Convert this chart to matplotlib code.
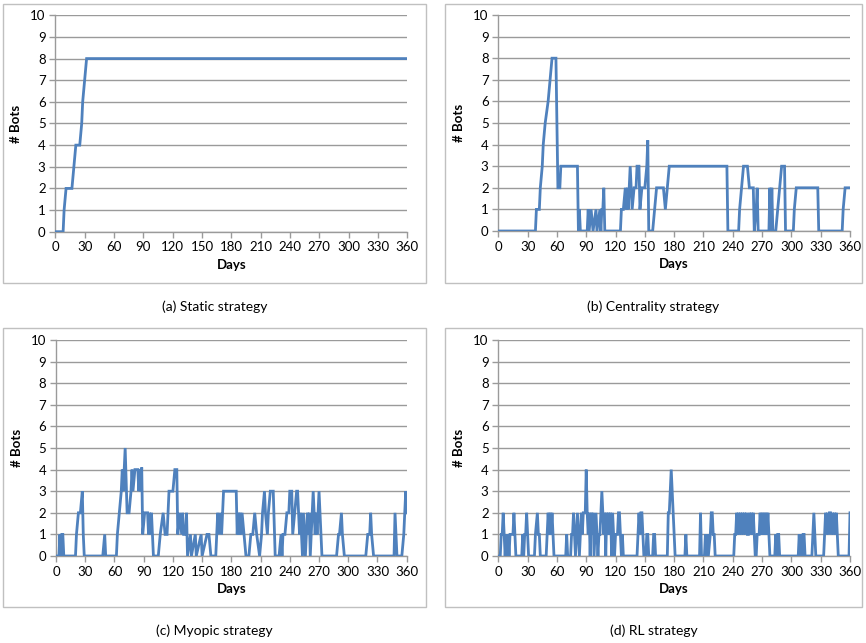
import matplotlib
matplotlib.use('Agg')
import matplotlib.pyplot as plt
from matplotlib.patches import Rectangle

plt.rcParams['font.family'] = ['Lato', 'DejaVu Sans']

# (day, #bots) breakpoints
static_days = [0, 8, 9, 11, 17, 19, 21, 25, 27, 28, 30, 32, 360]
static_bots = [0, 0, 1, 2, 2, 3, 4, 4, 5, 6, 7, 8, 8]

central_days = [0, 38, 39, 42, 43, 45, 46, 48, 51, 53, 55, 59, 61, 63, 64, 81, 82, 83, 84,
                91, 92, 93, 95, 97, 100, 101, 104, 105, 106, 107, 108, 109, 125, 126, 128,
                130, 131, 132, 133, 135, 137, 139, 141, 142, 144, 145, 147, 150, 152, 153,
                154, 158, 160, 162, 169, 171, 173, 175, 234, 235, 246, 247, 249, 251, 255,
                257, 261, 262, 264, 265, 266, 277, 278, 279, 280, 281, 284, 286, 288, 290,
                293, 294, 302, 303, 305, 327, 328, 352, 353, 355, 360]
central_bots = [0, 0, 1, 1, 2, 3, 4, 5, 6, 7, 8, 8, 2, 2, 3, 3, 0, 1, 0,
                0, 1, 0, 1, 0, 1, 0, 1, 0, 1, 1, 2, 0, 0, 1, 1,
                2, 1, 2, 1, 3, 1, 2, 2, 3, 3, 1, 2, 2, 3, 4.2,
                0, 0, 1, 2, 2, 1, 2, 3, 3, 0, 0, 1, 2, 3, 3,
                2, 2, 0, 1, 2, 0, 0, 2, 0, 2, 0, 0, 1, 2, 3,
                3, 0, 0, 1, 2, 2, 0, 0, 1, 2, 2]

myopic_days = [0, 3, 4, 5, 6, 7, 8, 20, 21, 23, 25, 27, 28, 29, 48, 50, 51, 62, 63, 65, 67,
               68, 69, 71, 73, 75, 77, 78, 79, 81, 84, 85, 86, 87, 88, 89, 91, 94, 95, 96,
               97, 98, 100, 105, 107, 110, 112, 114, 116, 120, 122, 124, 125, 127, 129, 130,
               131, 133, 134, 135, 138, 139, 143, 144, 149, 150, 155, 157, 159, 164, 166,
               167, 169, 170, 172, 185, 186, 187, 188, 189, 190, 191, 193, 195, 198, 200,
               202, 204, 206, 209, 211, 212, 214, 215, 217, 218, 220, 223, 225, 229, 231,
               232, 233, 235, 237, 239, 240, 242, 243, 245, 247, 248, 250, 251, 253, 254,
               255, 256, 258, 259, 260, 261, 262, 264, 265, 266, 267, 268, 270, 272, 273,
               288, 290, 291, 293, 294, 296, 318, 320, 322, 323, 324, 326, 347, 348, 350,
               355, 357, 359, 360]
myopic_bots = [0, 0, 1, 0, 1, 1, 0, 0, 1, 2, 2, 3, 1, 0, 0, 1, 0, 0, 1, 2, 3,
               4, 3, 5, 2, 2, 3, 4, 3, 4, 4, 3, 4, 3, 4.1, 1, 2, 2, 1, 2,
               1, 2, 0, 0, 1, 2, 1, 1, 3, 3, 4, 4, 1, 2, 1, 2,
               1, 1, 2, 0, 1, 0, 1, 0, 1, 0, 1, 1, 0, 0, 2,
               1, 2, 1, 3, 3, 1, 2, 1, 2, 1, 2, 1, 0, 0, 1,
               1, 2, 1, 0, 1, 2, 3, 2, 1, 2, 3, 3, 0, 0, 1,
               0, 1, 1, 2, 2, 3, 3, 1, 2, 3, 3, 1, 2, 0, 2,
               1, 0, 2, 1, 2, 0, 1, 3, 2, 1, 2, 1, 3, 1, 0,
               0, 1, 1, 2, 1, 0, 0, 1, 1, 2, 1, 0, 0, 2, 0,
               0, 1, 3, 2]

rl_days = [0, 2, 3, 4, 5, 6, 7, 8, 9, 10, 11, 12, 13, 14, 15, 16, 17, 18,
           24, 25, 26, 27, 28, 29, 30, 31, 37, 38, 40, 41, 42, 43,
           49, 50, 51, 52, 53, 54, 55, 56, 57, 69, 70, 71,
           74, 75, 76, 77, 78, 79, 80, 81, 82, 83, 84, 85, 86, 87, 88, 89, 90, 91, 92,
           93, 94, 95, 96, 97, 98, 99, 100, 101, 102, 103, 104, 105, 106, 107, 108, 109,
           110, 111, 112, 113, 114, 115, 116, 117, 118, 119, 120, 121, 122, 123, 124, 125,
           126, 127, 128, 142, 143, 144, 145, 146, 147, 148, 149, 151, 152, 153, 154,
           158, 159, 160, 161, 173, 174, 175, 176, 177, 178, 179, 180, 181,
           191, 192, 193, 206, 207, 208, 211, 212, 213, 214, 215, 217, 218, 219, 220, 221, 222,
           241, 242, 243, 244, 245, 246, 247, 248, 249, 250, 251, 252, 253, 254, 255, 256,
           257, 258, 259, 260, 261, 262, 263, 264, 265, 267, 268, 269, 270, 271, 272, 273,
           274, 275, 276, 277, 278, 283, 284, 285, 286, 287, 288, 307, 308, 309, 310, 311,
           312, 313, 314, 321, 322, 323, 324, 325, 333, 334, 335, 336, 337, 338, 339, 340,
           341, 342, 343, 344, 345, 346, 347, 348, 359, 360]
rl_bots = [0, 0, 1, 1, 2, 1, 0, 1, 0, 1, 0, 1, 1, 1, 1, 2, 1, 0,
           0, 1, 0, 1, 1, 2, 1, 0, 0, 1, 2, 1, 1, 0,
           0, 1, 2, 1, 2, 1, 2, 1, 0, 0, 1, 0,
           0, 1, 1, 2, 1, 0, 1, 2, 1, 0, 1, 2, 1, 2, 2, 2, 4, 2, 1,
           2, 0, 2, 1, 2, 0, 1, 2, 1, 0, 1, 1, 2, 3, 2, 1, 2,
           0, 2, 1, 2, 1, 2, 0, 2, 1, 0, 1, 1, 1, 2, 2, 1,
           0, 1, 0, 0, 1, 2, 1, 2, 2, 1, 0, 0, 1, 1, 0,
           0, 1, 1, 0, 0, 2, 2, 3, 4, 3, 2, 1, 0,
           0, 1, 0, 0, 2, 0, 0, 1, 0, 1, 0, 1, 2, 2, 1, 1, 0,
           0, 1, 1, 2, 1, 2, 1, 2, 1, 2, 1, 2, 1, 2, 1, 1,
           2, 1, 2, 1, 2, 1, 0, 0, 1, 1, 2, 1, 2, 1, 2, 1,
           2, 1, 2, 1, 0, 0, 1, 0, 1, 1, 0, 0, 1, 0, 1, 0,
           1, 1, 0, 0, 1, 2, 1, 0, 0, 1, 2, 1, 2, 1, 2, 2,
           1, 2, 1, 2, 1, 2, 1, 0, 0, 2]

captions = ['(a) Static strategy', '(b) Centrality strategy',
            '(c) Myopic strategy', '(d) RL strategy']
x_ticks = list(range(0, 361, 30))
y_ticks = list(range(0, 11))

W, H = 866, 643
LINE = '#4F81BD'
GRID = '#9a9a9a'

fig = plt.figure(figsize=(W / 100, H / 100), dpi=100)
fig.patch.set_facecolor('white')


def px_axes(x0, y0, x1, y1):
    return fig.add_axes([x0 / W, 1 - y1 / H, (x1 - x0) / W, (y1 - y0) / H])


def draw_panel(box, area, days, bots, caption, cap_y):
    bx0, by0, bx1, by1 = box
    fig.add_artist(Rectangle((bx0 / W, 1 - by1 / H), (bx1 - bx0) / W, (by1 - by0) / H,
                             transform=fig.transFigure, fill=False,
                             edgecolor='#c0c0c0', linewidth=1.0))
    ax = px_axes(*area)
    ax.plot(days, bots, color=LINE, linewidth=2.0, solid_joinstyle='miter', zorder=3)
    ax.set_xlim(0, 360)
    ax.set_ylim(0, 10)
    ax.set_xticks(x_ticks)
    ax.set_yticks(y_ticks)
    ax.yaxis.grid(True, color=GRID, linewidth=1.0)
    ax.set_axisbelow(True)
    for s in ['top', 'right']:
        ax.spines[s].set_visible(False)
    for s in ['left', 'bottom']:
        ax.spines[s].set_color(GRID)
        ax.spines[s].set_linewidth(1.0)
    ax.tick_params(axis='both', colors=GRID, labelcolor='black', labelsize=9.5,
                   length=4, width=1.0, direction='out')
    ax.tick_params(axis='x', pad=3)
    ax.tick_params(axis='y', pad=3)
    ax.set_xlabel('Days', fontsize=9.5, fontweight='bold', labelpad=4)
    ax.set_ylabel('# Bots', fontsize=9.5, fontweight='bold', labelpad=6)
    fig.text((bx0 + bx1) / 2 / W, 1 - cap_y / H, caption, ha='center', va='center',
             fontsize=10)
    return ax


draw_panel((3, 4, 426, 283), (55.3, 15.3, 407.3, 231.7),
           static_days, static_bots, captions[0], 307)
draw_panel((445, 4, 862, 283), (498.3, 15.0, 850.0, 231.0),
           central_days, central_bots, captions[1], 307)
draw_panel((3, 328, 426, 607), (56.0, 340.0, 406.7, 556.0),
           myopic_days, myopic_bots, captions[2], 631)
draw_panel((445, 328, 862, 607), (498.3, 340.0, 850.0, 556.0),
           rl_days, rl_bots, captions[3], 631)

fig.savefig('out.png', dpi=100)
